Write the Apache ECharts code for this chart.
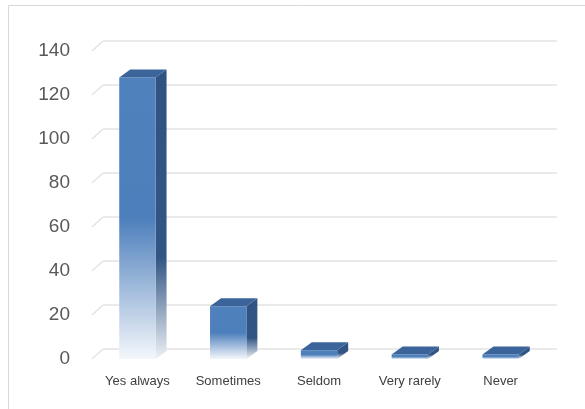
<!DOCTYPE html>
<html><head><meta charset="utf-8">
<script src="https://cdn.jsdelivr.net/npm/echarts@6/dist/echarts.min.js"></script>
<style>html,body{margin:0;padding:0;background:#fff}#c{width:585px;height:409px}</style>
</head><body><div id="c"></div>
<script>
const categories = ['Yes always', 'Sometimes', 'Seldom', 'Very rarely', 'Never'];
const values = [128, 24, 4, 2, 2];
const yTicks = [0, 20, 40, 60, 80, 100, 120, 140];

const DX = 11, DY = 8, WX = 11, WY = 10;
const FONT = 'Liberation Sans, Arial, sans-serif';

const chart = echarts.init(document.getElementById('c'));
chart.setOption({
  animation: false,
  backgroundColor: '#fff',
  graphic: [{ type: 'rect', shape: { x: 8.5, y: 5.5, width: 600, height: 420 }, style: { fill: 'none', stroke: '#d9d9d9', lineWidth: 1 }, z: 100 }],
  grid: [
    { left: 103, right: 28, top: 41, bottom: 60 },
    { left: 92, right: 39, top: 51, bottom: 50 }
  ],
  xAxis: [
    { type: 'category', data: categories, gridIndex: 0, show: false },
    { type: 'category', data: categories, gridIndex: 1,
      axisLine: { show: false }, axisTick: { show: false }, splitLine: { show: false },
      axisLabel: { color: '#404040', fontSize: 13, fontFamily: FONT, margin: 16 } }
  ],
  yAxis: [
    { type: 'value', gridIndex: 0, min: 0, max: 140, interval: 20,
      axisLine: { show: false }, axisTick: { show: false }, axisLabel: { show: false },
      splitLine: { lineStyle: { color: '#e3e3e3', width: 1.5 } } },
    { type: 'value', gridIndex: 1, min: 0, max: 140, interval: 20,
      axisLine: { show: false }, axisTick: { show: false }, splitLine: { show: false },
      axisLabel: { color: '#595959', fontSize: 19, fontFamily: FONT, margin: 22 } }
  ],
  series: [
    {
      type: 'custom', xAxisIndex: 1, yAxisIndex: 1,
      data: yTicks.map(v => [0, v]),
      encode: { x: 0, y: 1 },
      renderItem: function (params, api) {
        const p = api.coord([0, api.value(1)]);
        const x = params.coordSys.x;
        return { type: 'line', shape: { x1: x, y1: p[1], x2: x + WX, y2: p[1] - WY },
          style: { stroke: '#e3e3e3', lineWidth: 1.5 } };
      },
      z: 1
    },
    {
      type: 'custom', xAxisIndex: 1, yAxisIndex: 1,
      data: values.map((v, i) => [i, v]),
      encode: { x: 0, y: 1 },
      renderItem: function (params, api) {
        const i = api.value(0), v = api.value(1);
        const base = api.coord([i, 0]);
        const top = api.coord([i, v]);
        const w = api.size([1, 0])[0] * 0.4;
        const x0 = base[0] - w / 2, x1 = base[0] + w / 2;
        const yt = top[1], yb = base[1];
        const front = new echarts.graphic.LinearGradient(0, 0, 0, 1, [
          { offset: 0, color: '#4f81bd' }, { offset: 0.5, color: '#4d7fbc' },
          { offset: 1, color: '#f4f7fb' }]);
        const side = new echarts.graphic.LinearGradient(0, 0, 0, 1, [
          { offset: 0, color: '#2f5383' }, { offset: 0.65, color: '#315585' },
          { offset: 1, color: '#eef1f5' }]);
        return { type: 'group', children: [
          { type: 'polygon', shape: { points: [[x1, yt], [x1 + DX, yt - DY], [x1 + DX, yb - DY], [x1, yb]] }, style: { fill: side } },
          { type: 'rect', shape: { x: x0, y: yt, width: w, height: yb - yt }, style: { fill: front } },
          { type: 'polygon', shape: { points: [[x0, yt], [x1, yt], [x1 + DX, yt - DY], [x0 + DX, yt - DY]] }, style: { fill: '#3a649a' } }
        ] };
      },
      z: 5
    }
  ]
});
</script></body></html>
